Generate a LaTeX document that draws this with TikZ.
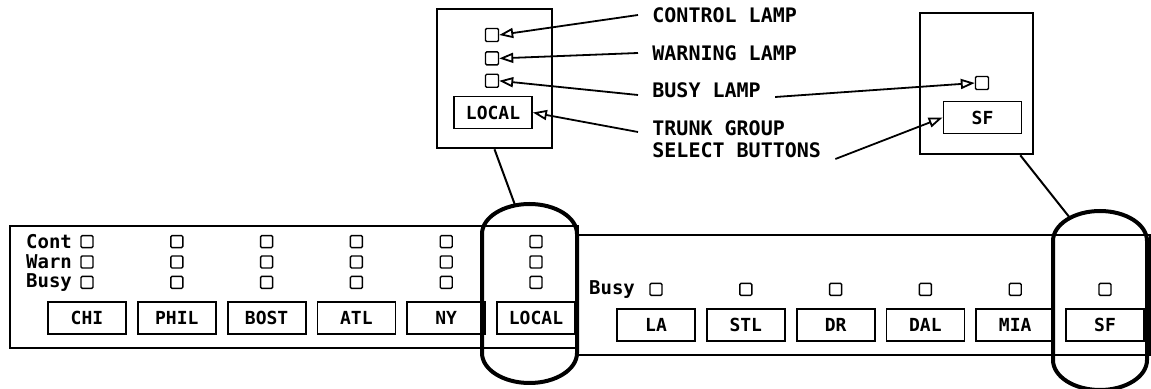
\documentclass[tikz,border=0pt]{standalone}
\usepackage{fontspec}
\setmonofont{DejaVu Sans Mono}
\usepackage{tikz}
\usetikzlibrary{arrows.meta,positioning}

\begin{document}
\begin{tikzpicture}[
      x=0.5pt, y=-0.5pt,
      node distance=5pt,
      every node/.style={font=\ttfamily\bfseries},
      btn/.style={rectangle, draw, line width=0.9pt, minimum width=39pt,
                  minimum height=16pt, inner sep=0pt,
                  font=\ttfamily\bfseries\fontsize{9}{9}\selectfont},
      lamp/.style={rectangle, draw, line width=0.7pt, minimum size=6pt,
                   inner sep=0pt, rounded corners=0.6pt},
      rowlbl/.style={font=\ttfamily\bfseries\fontsize{9.5}{9.5}\selectfont, inner sep=1pt},
      callout/.style={rectangle, draw, line width=1.3pt},
      tag/.style={font=\ttfamily\bfseries\fontsize{10}{11}\selectfont, align=left,
                  inner xsep=7pt, inner ysep=1pt, anchor=west},
      ptr/.style={line width=0.9pt,
                  -{Triangle[open, length=7pt, width=5pt, line width=0.9pt]}},
      panel/.style={line width=1.2pt},
      oval/.style={line width=2pt},
    ]
    \useasboundingbox (0,0) rectangle (1151,389);

    % Left panel: trunk groups with three lamps each
    \draw[panel] (10,226) rectangle (578,348);
    \node[btn] (chi) at (87,318) {CHI};
    \node[btn, right=of chi]  (phil)  {PHIL};
    \node[btn, right=of phil] (bost)  {BOST};
    \node[btn, right=of bost] (atl)   {ATL};
    \node[btn, right=of atl]  (ny)    {NY};
    \node[btn, right=of ny]   (local) {LOCAL};
    \foreach \b in {chi,phil,bost,atl,ny,local} {
      \node[lamp, above=6pt of \b]        (\b-busy) {};
      \node[lamp, above=3.5pt of \b-busy] (\b-warn) {};
      \node[lamp, above=3.5pt of \b-warn] (\b-cont) {};
    }
    \node[rowlbl, left=3pt of chi-cont] (contLbl) {Cont};
    \node[rowlbl, left=3pt of chi-warn] (warnLbl) {Warn};
    \node[rowlbl, left=3pt of chi-busy] (busyLbl) {Busy};

    % Right panel: busy lamps only
    \draw[panel] (578,235) rectangle (1150,355);
    \node[btn] (la) at (656,325) {LA};
    \node[btn, right=of la]  (stl) {STL};
    \node[btn, right=of stl] (dr)  {DR};
    \node[btn, right=of dr]  (dal) {DAL};
    \node[btn, right=of dal] (mia) {MIA};
    \node[btn, right=of mia] (sf)  {SF};
    \foreach \b in {la,stl,dr,dal,mia,sf}
      \node[lamp, above=6pt of \b] (\b-busy) {};
    \node[rowlbl, left=6pt of la-busy] (busyLbl2) {Busy};

    % Ovals round the enlarged columns
    \draw[oval] (482,234) -- (482,353)
      arc[start angle=180, end angle=0, x radius=47.5, y radius=30] -- (577,234)
      arc[start angle=0, end angle=-180, x radius=47.5, y radius=30] -- cycle;
    \draw[oval] (1053,241) -- (1053,360)
      arc[start angle=180, end angle=0, x radius=47, y radius=30] -- (1147,241)
      arc[start angle=0, end angle=-180, x radius=47, y radius=30] -- cycle;
    \coordinate (localTop) at (515,205);
    \coordinate (sfTop) at (1070,218);

    % Enlarged LOCAL column
    \node[callout, minimum width=57.5pt, minimum height=69.5pt] (lcBox) at (494.5,78.5) {};
    \node[lamp, minimum size=6.5pt] (lcCont) at (492,35) {};
    \node[lamp, minimum size=6.5pt, below=4.5pt of lcCont] (lcWarn) {};
    \node[lamp, minimum size=6.5pt, below=4pt of lcWarn]   (lcBusy) {};
    \node[btn] (lcLocal) at (493,112.5) {LOCAL};

    % Enlarged SF column
    \node[callout, minimum width=56.5pt, minimum height=70.5pt] (sfBox) at (976.5,83.5) {};
    \node[lamp, minimum size=6.5pt] (sfBusy) at (982,83) {};
    \node[btn] (sfSel) at (982.5,117.5) {SF};

    % Callout texts
    \node[tag] (ctrlTag)  at (638,15)  {CONTROL LAMP};
    \node[tag] (warnTag)  at (638,53)  {WARNING LAMP};
    \node[tag] (busyTag)  at (638,90)  {BUSY LAMP};
    \node[tag] (trunkTag) at (638,139) {TRUNK GROUP\\SELECT BUTTONS};

    \draw[ptr] (ctrlTag.west) -- (lcCont.east);
    \draw[ptr] (warnTag.west) -- (lcWarn.east);
    \draw[ptr] ([yshift=-2.5pt]busyTag.west) -- (lcBusy.east);
    \draw[ptr] ([yshift=3.5pt]trunkTag.west) -- (lcLocal.east);
    \draw[ptr] ([yshift=-3.5pt]busyTag.east) -- (sfBusy.west);
    \draw[ptr] ([yshift=-10pt]trunkTag.east) -- (sfSel.west);

    % Lines from the enlargements down to the ovals
    \draw[line width=1pt] (lcBox.south) -- (localTop);
    \draw[line width=1pt] ([xshift=-7pt]sfBox.south east) -- (sfTop);
  \end{tikzpicture}
\end{document}
